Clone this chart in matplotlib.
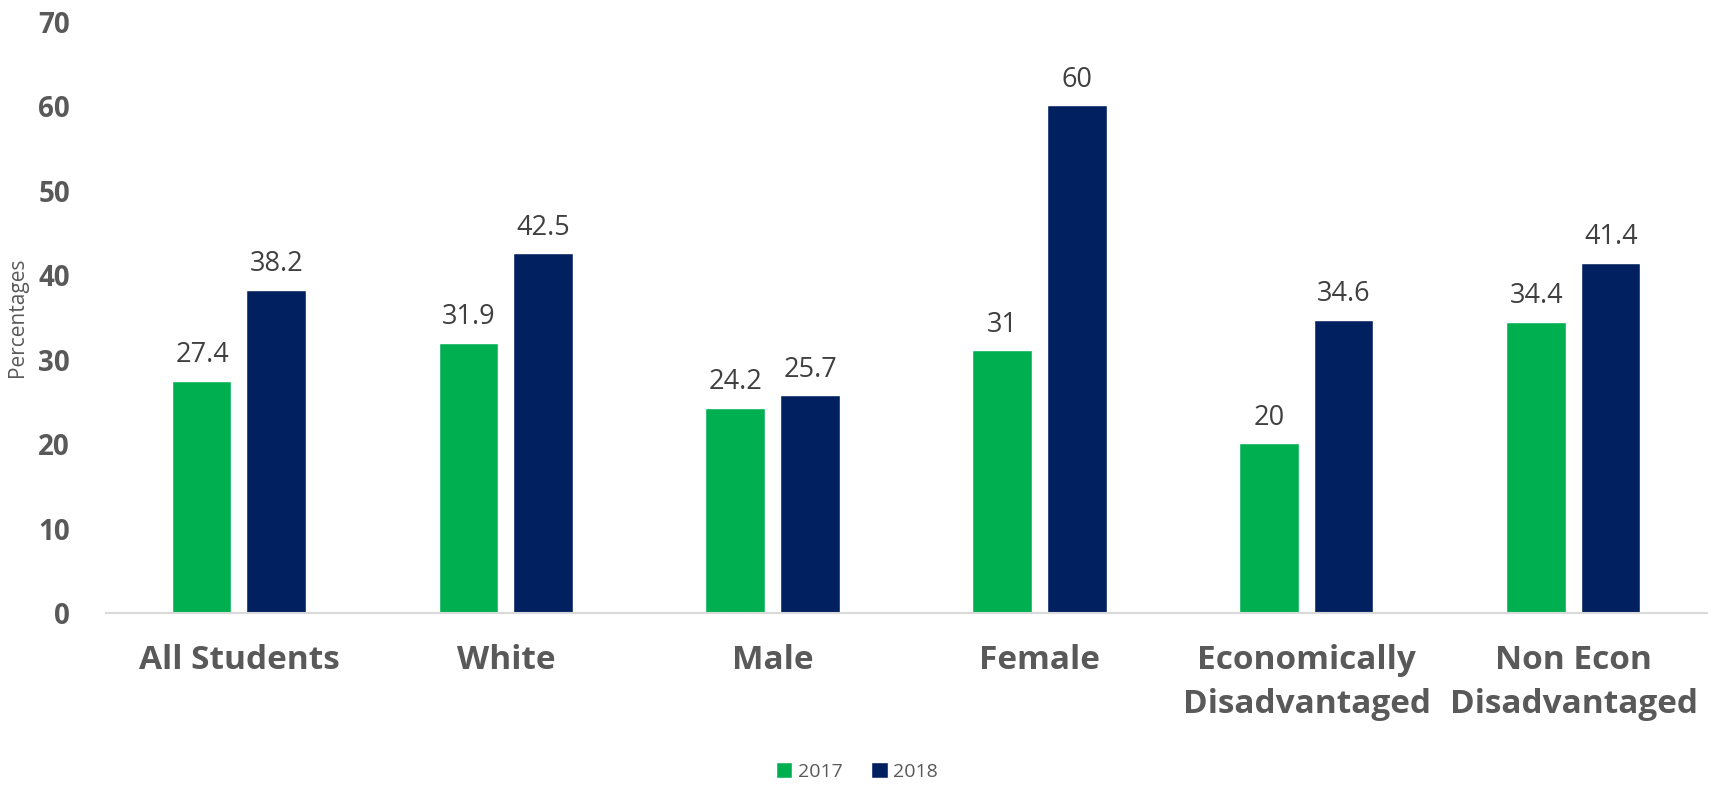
import matplotlib
matplotlib.use("Agg")
import matplotlib.pyplot as plt
import numpy as np

plt.rcParams['font.family'] = ['Open Sans', 'DejaVu Sans']

categories = ["All Students", "White", "Male", "Female",
              "Economically\nDisadvantaged", "Non Econ\nDisadvantaged"]
series_names = ["2017", "2018"]
values_2017 = [27.4, 31.9, 24.2, 31, 20, 34.4]
values_2018 = [38.2, 42.5, 25.7, 60, 34.6, 41.4]
yticks = [0, 10, 20, 30, 40, 50, 60, 70]

colors = ["#00B050", "#002060"]
gray = "#595959"

fig = plt.figure(figsize=(17.15, 7.88), dpi=100)
ax = fig.add_axes([0.0618, 0.222, 0.9335, 0.75])

x = np.arange(len(categories))
w = 0.22
off = 0.14
for vals, name, c, d in [(values_2017, series_names[0], colors[0], -off),
                         (values_2018, series_names[1], colors[1], off)]:
    ax.bar(x + d, vals, width=w, color=c, label=name, edgecolor='white', linewidth=0.3)
    for xi, v in zip(x + d, vals):
        ax.annotate(f"{v:g}", (xi, v), xytext=(0, 9), textcoords='offset points',
                    ha='center', va='bottom', fontsize=19.5, color="#404040")

ax.set_xlim(-0.5, len(categories) - 0.5)
ax.set_ylim(0, 70)
ax.set_yticks(yticks)
ax.set_yticklabels([str(t) for t in yticks], fontsize=20, fontweight='bold', color=gray)
ax.set_xticks(x)
ax.set_xticklabels(categories, fontsize=24, fontweight='bold', color=gray, linespacing=1.45)
ax.tick_params(axis='y', length=0, pad=26)
ax.tick_params(axis='x', length=0, pad=22)
for s in ['top', 'right', 'left']:
    ax.spines[s].set_visible(False)
ax.spines['bottom'].set_color('#D9D9D9')
ax.spines['bottom'].set_linewidth(1.5)

ax.set_ylabel("Percentages", fontsize=15, color=gray)
ax.yaxis.set_label_coords(-0.049, 0.5)

handles, labels = ax.get_legend_handles_labels()
fig.legend(handles, labels, loc='center', bbox_to_anchor=(0.5, 0.02), ncol=2,
           frameon=False, fontsize=14, labelcolor=gray, handlelength=0.8,
           handleheight=0.8, handletextpad=0.3, columnspacing=1.5)

fig.savefig("out.png", dpi=100)
